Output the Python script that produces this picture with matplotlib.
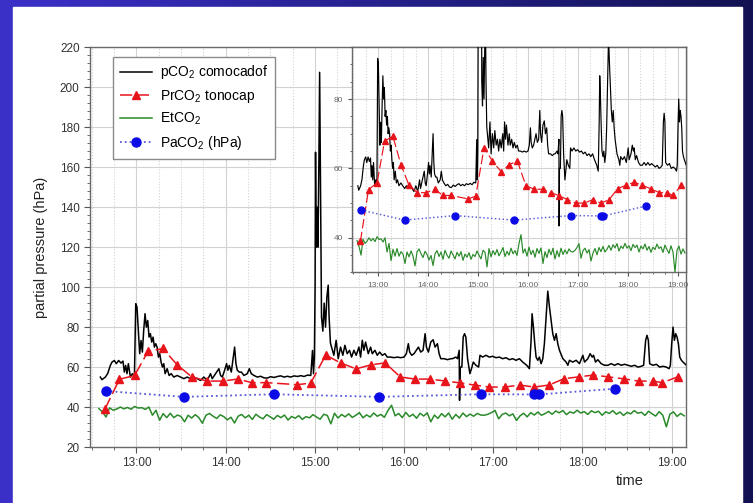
import numpy as np
import matplotlib
matplotlib.use("Agg")
import matplotlib.pyplot as plt
from matplotlib.patches import Rectangle
from matplotlib.ticker import MultipleLocator, FuncFormatter

plt.rcParams['font.family'] = ['Liberation Sans', 'DejaVu Sans']
plt.rcParams['mathtext.default'] = 'regular'

# pCO2 from the comocadof sensor (time in decimal hours, hPa)
t_pco2 = [12.596, 12.614, 12.652, 12.678, 12.708, 12.727, 12.753, 12.775, 12.801, 12.828,
          12.850, 12.865, 12.880, 12.895, 12.910, 12.933, 12.955, 12.978, 12.993, 13.007,
          13.022, 13.037, 13.052, 13.067, 13.082, 13.097, 13.112, 13.127, 13.142, 13.157,
          13.172, 13.187, 13.202, 13.217, 13.232, 13.247, 13.262, 13.277, 13.292, 13.307,
          13.322, 13.345, 13.367, 13.390, 13.419, 13.457, 13.494, 13.532, 13.569, 13.607,
          13.644, 13.682, 13.719, 13.757, 13.794, 13.831, 13.850, 13.888, 13.925, 13.944,
          13.963, 13.989, 14.011, 14.026, 14.041, 14.064, 14.079, 14.101, 14.116, 14.131,
          14.154, 14.176, 14.206, 14.243, 14.266, 14.288, 14.318, 14.356, 14.393, 14.431,
          14.468, 14.506, 14.543, 14.581, 14.618, 14.655, 14.693, 14.730, 14.768, 14.805,
          14.843, 14.880, 14.918, 14.955, 14.974, 14.985, 14.995, 15.003, 15.008, 15.015,
          15.025, 15.035, 15.045, 15.054, 15.065, 15.075, 15.090, 15.105, 15.120, 15.135,
          15.150, 15.160, 15.175, 15.213, 15.239, 15.262, 15.288, 15.314, 15.337, 15.363,
          15.389, 15.412, 15.438, 15.464, 15.494, 15.513, 15.532, 15.550, 15.569, 15.599,
          15.625, 15.644, 15.674, 15.700, 15.726, 15.756, 15.786, 15.812, 15.850, 15.887,
          15.925, 15.962, 16.000, 16.026, 16.048, 16.063, 16.086, 16.112, 16.138, 16.161,
          16.187, 16.213, 16.236, 16.251, 16.273, 16.299, 16.326, 16.348, 16.374, 16.393,
          16.412, 16.449, 16.487, 16.524, 16.543, 16.581, 16.600, 16.618, 16.622, 16.630,
          16.648, 16.663, 16.678, 16.693, 16.712, 16.738, 16.761, 16.776, 16.806, 16.836,
          16.851, 16.881, 16.918, 16.955, 16.993, 17.030, 17.068, 17.105, 17.143, 17.180,
          17.218, 17.255, 17.293, 17.330, 17.375, 17.405, 17.424, 17.435, 17.450, 17.465,
          17.480, 17.499, 17.517, 17.536, 17.555, 17.573, 17.592, 17.611, 17.630, 17.648,
          17.667, 17.686, 17.705, 17.723, 17.742, 17.780, 17.817, 17.836, 17.854, 17.891,
          17.929, 17.966, 18.004, 18.023, 18.060, 18.086, 18.109, 18.124, 18.146, 18.172,
          18.210, 18.247, 18.285, 18.322, 18.360, 18.397, 18.435, 18.472, 18.510, 18.547,
          18.584, 18.622, 18.659, 18.685, 18.708, 18.723, 18.738, 18.753, 18.790, 18.828,
          18.865, 18.903, 18.940, 18.970, 18.985, 19.000, 19.015, 19.030, 19.045, 19.060,
          19.075, 19.090, 19.109, 19.127, 19.146, 19.165]
pco2 = [55.0, 53.7, 55.0, 56.7, 60.8, 62.5, 63.3, 61.7, 63.3, 62.0,
        63.0, 57.5, 60.8, 56.7, 61.7, 55.0, 56.7, 55.0, 91.7, 90.0,
        78.3, 66.7, 73.3, 67.5, 78.3, 86.7, 80.0, 83.3, 75.0, 76.7,
        72.5, 75.0, 70.0, 71.7, 70.0, 65.0, 66.7, 62.5, 60.0, 61.7,
        56.7, 59.2, 55.8, 56.7, 55.0, 55.8, 55.0, 54.2, 55.0, 54.2,
        55.0, 54.2, 53.3, 55.0, 53.3, 56.7, 54.2, 56.7, 59.2, 55.8,
        55.0, 58.4, 61.7, 58.4, 60.8, 57.5, 62.5, 70.0, 61.7, 58.4,
        57.5, 57.5, 55.8, 56.7, 59.2, 56.7, 55.8, 55.0, 55.4, 54.6,
        54.5, 55.2, 54.8, 55.3, 55.6, 55.0, 55.4, 55.0, 55.6, 55.3,
        55.7, 55.3, 56.0, 55.8, 68.3, 56.7, 65.0, 100.0, 167.5, 120.0,
        140.0, 120.0, 160.0, 207.5, 140.0, 85.0, 78.0, 92.0, 80.0, 95.0,
        101.0, 85.0, 72.0, 65.9, 73.4, 64.2, 70.0, 65.9, 70.9, 66.7,
        68.4, 65.0, 68.4, 65.9, 70.0, 65.0, 73.4, 68.4, 72.5, 66.7,
        70.0, 66.7, 68.4, 65.9, 67.5, 65.9, 66.7, 65.0, 65.0, 64.7,
        65.0, 64.7, 65.0, 66.7, 71.7, 67.5, 65.9, 66.7, 68.4, 70.0,
        67.5, 68.4, 76.7, 70.0, 67.5, 72.5, 73.7, 70.0, 71.7, 66.7,
        64.2, 64.2, 63.7, 64.2, 64.2, 65.0, 64.2, 68.4, 43.4, 60.0,
        60.0, 75.0, 76.7, 75.0, 64.2, 56.7, 60.0, 62.5, 60.9, 60.0,
        65.9, 65.0, 65.9, 65.0, 65.4, 64.7, 65.0, 64.2, 64.7, 63.7,
        64.2, 63.4, 64.2, 62.5, 60.9, 59.2, 73.4, 86.7, 80.0, 71.7,
        65.0, 63.4, 65.0, 61.7, 64.2, 71.7, 85.0, 98.0, 90.0, 83.4,
        76.7, 73.4, 76.7, 71.7, 68.4, 64.2, 62.5, 60.9, 63.4, 62.5,
        63.4, 61.7, 65.9, 62.5, 64.2, 66.7, 65.0, 65.9, 62.5, 63.7,
        61.7, 60.9, 60.9, 61.7, 60.9, 61.7, 60.9, 61.4, 60.9, 60.4,
        60.9, 60.0, 60.4, 60.9, 73.4, 75.9, 73.4, 61.7, 60.9, 61.4,
        60.0, 60.4, 60.0, 59.2, 60.9, 71.7, 80.0, 73.4, 76.7, 75.0,
        71.7, 65.0, 63.4, 62.5, 61.7, 60.9]

# PrCO2 from the tonocap, one reading about every 10 min
t_prco2 = [12.648, 12.810, 12.980, 13.130, 13.296, 13.460, 13.618, 13.787, 13.966, 14.136,
           14.296, 14.458, 14.805, 14.954, 15.122, 15.288, 15.462, 15.626, 15.788, 15.959,
           16.126, 16.292, 16.462, 16.626, 16.790, 16.957, 17.127, 17.296, 17.460, 17.624,
           17.794, 17.958, 18.122, 18.290, 18.464, 18.628, 18.786, 18.896, 19.067]
prco2 = [39.0, 53.9, 55.8, 67.8, 69.3, 61.0, 55.2, 53.0, 53.0, 54.0,
         52.2, 52.2, 51.2, 52.0, 66.0, 62.1, 59.1, 61.1, 62.1, 55.0,
         54.0, 54.0, 53.0, 52.1, 51.0, 50.0, 50.0, 51.0, 50.0, 51.0,
         54.2, 55.1, 56.0, 55.1, 54.1, 53.0, 53.0, 52.2, 55.1]

# end-tidal CO2, sampled every 0.04 h from 12.58
etco2_start, etco2_step = 12.58, 0.04
etco2 = [39.2, 37.5, 35.0, 39.6, 38.4, 39.0, 40.0, 39.1, 39.8, 38.9,
         40.3, 39.5, 39.7, 38.8, 40.0, 35.9, 38.4, 33.4, 36.7, 34.7,
         36.9, 34.7, 36.0, 35.3, 32.6, 35.9, 34.5, 36.2, 34.7, 31.9,
         35.9, 36.8, 35.4, 34.3, 36.1, 35.2, 33.6, 34.9, 32.0, 35.4,
         36.3, 34.6, 35.9, 33.8, 36.4, 35.0, 34.1, 36.2, 35.1, 33.9,
         35.8, 34.7, 36.0, 33.5, 35.3, 34.4, 35.7, 33.8, 35.2, 34.6,
         36.2, 35.0, 33.9, 36.4, 35.8, 31.6, 36.9, 34.5, 36.3, 35.1,
         36.6, 34.8, 35.9, 37.2, 34.6, 36.1, 35.0, 37.0, 35.4, 36.3,
         34.9, 38.3, 40.9, 35.6, 36.8, 34.7, 37.3, 35.2, 36.4, 34.4,
         36.9, 35.5, 37.1, 32.6, 36.0, 34.3, 36.7, 35.1, 37.0, 33.9,
         36.3, 34.5, 37.0, 35.2, 36.5, 35.4, 36.8, 36.0, 35.9, 36.4,
         37.2, 38.3, 34.1, 36.3, 37.0, 35.6, 36.6, 33.3, 35.6, 36.9,
         35.1, 37.2, 36.0, 37.5, 35.9, 36.7, 37.8, 36.4, 38.0, 37.1,
         38.3, 36.2, 37.6, 36.9, 38.4, 37.0, 37.7, 36.3, 38.1, 37.2,
         37.9, 35.9, 37.6, 36.8, 38.2, 36.4, 37.5, 35.8, 37.3, 36.6,
         38.2, 36.9, 37.4, 35.8, 37.9, 36.6, 35.5, 37.7, 35.9, 30.1,
         36.4, 37.6, 35.3, 36.8, 35.6]
t_etco2 = etco2_start + etco2_step * np.arange(len(etco2))

# arterial blood gas samples
t_paco2 = [12.66, 13.53, 14.54, 15.72, 16.86, 17.46, 17.51, 18.37]
paco2 = [48.0, 45.1, 46.4, 45.1, 46.4, 46.3, 46.3, 49.2]

labels = ['pCO$_2$ comocadof', 'PrCO$_2$ tonocap', 'EtCO$_2$', 'PaCO$_2$ (hPa)']

BLACK = '#000000'
RED = '#e8141c'
GREEN = '#2a8a2a'
BLUE = '#0b0be6'
GRID = '#d2d2d2'


def hour_fmt(v, pos):
    return '%02d:00' % int(round(v))


def draw_series(ax, lw, ms_tri, ms_dot):
    ax.plot(t_etco2, etco2, color=GREEN, lw=lw, zorder=3, label=labels[2])
    ax.plot(t_pco2, pco2, color=BLACK, lw=lw, zorder=4, label=labels[0])
    ax.plot(t_prco2, prco2, color=RED, lw=lw, ls=(0, (8, 3)), marker='^',
            ms=ms_tri, zorder=5, label=labels[1])
    ax.plot(t_paco2, paco2, color='#5a5ad8', lw=lw + 0.2, ls=':', marker='o',
            mfc=BLUE, mec=BLUE, ms=ms_dot, zorder=6, label=labels[3])


def style_axes(ax, labelsize, labelcolor, ymajor, yminor):
    ax.set_xlim(12.48, 19.16)
    ax.xaxis.set_major_locator(MultipleLocator(1))
    ax.xaxis.set_minor_locator(MultipleLocator(0.25))
    ax.xaxis.set_major_formatter(FuncFormatter(hour_fmt))
    ax.yaxis.set_major_locator(MultipleLocator(ymajor))
    ax.yaxis.set_minor_locator(MultipleLocator(yminor))
    ax.grid(True, which='major', color=GRID, lw=0.8, ls='-', zorder=0)
    ax.grid(True, which='minor', axis='x', color=GRID, lw=0.8, ls=':', zorder=0)
    ax.set_axisbelow(True)
    ax.tick_params(which='both', direction='out', color='#555555',
                   labelsize=labelsize, labelcolor=labelcolor)
    for s in ax.spines.values():
        s.set_color('#6a6a6a')
        s.set_linewidth(1.0)


fig = plt.figure(figsize=(7.53, 5.03), dpi=100)

# slide-style frame behind the chart
bg = fig.add_axes([0, 0, 1, 1], zorder=-10)
grad = np.linspace(0, 1, 256)
c0 = np.array([0.23, 0.19, 0.79])
c1 = np.array([0.07, 0.07, 0.32])
img = (c0[None, :] * (1 - grad[:, None]) + c1[None, :] * grad[:, None])[None, :, :]
bg.imshow(img, extent=[0, 1, 0, 1], aspect='auto')
bg.add_patch(Rectangle((13 / 753, 0), (742 - 13) / 753, (503 - 7) / 503,
                       color='white', zorder=2))
bg.set_xlim(0, 1)
bg.set_ylim(0, 1)
bg.axis('off')

# main panel
ax = fig.add_axes([0.1195, 0.1113, 0.7915, 0.7946])
ax.set_facecolor('white')
draw_series(ax, 1.1, 5.5, 6.5)
style_axes(ax, 8.5, '#333333', 20, 4)
ax.set_ylim(20, 220)
ax.tick_params(which='major', length=4)
ax.tick_params(which='minor', length=2)
ax.set_ylabel('partial pressure (hPa)', fontsize=10.5, color='#222222')
ax.yaxis.set_label_coords(-0.07, 0.5)
ax.set_xlabel('time', fontsize=10.5, color='#222222')
ax.xaxis.set_label_coords(0.906, -0.068)

handles, lbls = ax.get_legend_handles_labels()
order = [labels.index(l) for l in lbls]
handles = [h for _, h in sorted(zip(order, handles), key=lambda p: p[0])]
leg = ax.legend(handles, labels, loc='upper left', bbox_to_anchor=(0.0386, 0.977),
                borderaxespad=0, fontsize=10, fancybox=False, framealpha=1,
                edgecolor='#8a8a8a', handlelength=2.3, labelspacing=0.45,
                borderpad=0.5, handletextpad=0.6)
leg.get_frame().set_linewidth(1.0)

# zoomed inset
axins = fig.add_axes([0.4675, 0.4583, 0.4435, 0.4483], zorder=5)
axins.set_facecolor('white')
draw_series(axins, 0.85, 4.5, 5)
style_axes(axins, 6, '#666666', 20, 5)
axins.set_ylim(30, 95)
axins.tick_params(which='major', length=3)
axins.tick_params(which='minor', length=1.5)

fig.savefig('out.png', dpi=100)
